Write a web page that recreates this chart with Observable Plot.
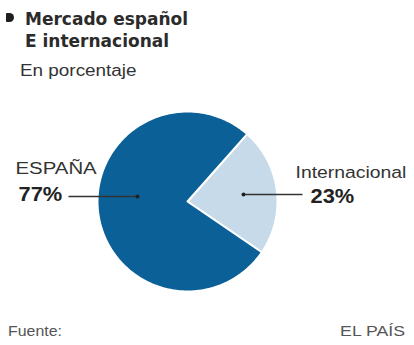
<!DOCTYPE html>
<html><head><meta charset="utf-8">
<script src="https://cdn.jsdelivr.net/npm/d3@7"></script>
<script src="https://cdn.jsdelivr.net/npm/@observablehq/plot@0.6"></script>
<style>
body{margin:0;background:#fff;}
#wrap{position:relative;width:414px;height:345px;overflow:hidden;font-family:"Liberation Sans",Arial,sans-serif;}
#chart{position:absolute;left:0;top:0;}
.t{position:absolute;white-space:nowrap;transform-origin:left top;}
#bullet{position:absolute;left:6px;top:13px;width:8px;height:9px;background:#1e1e1e;border-radius:1px 5px 5px 1px;}
#title{left:25px;top:8px;font-family:"DejaVu Sans",sans-serif;font-weight:bold;font-size:17px;line-height:22px;color:#2b2b2b;}
#subtitle{left:20px;top:62.5px;font-size:16px;line-height:16px;color:#333;transform:scaleX(1.18);}
#source{left:8px;top:323px;font-size:15px;line-height:15px;color:#555;transform:scaleX(1.06);}
#credit{right:9px;top:323px;font-size:15px;line-height:15px;color:#555;transform:scaleX(1.18);transform-origin:right top;}
</style></head><body>
<div id="wrap">
  <div id="chart"></div>
  <div id="bullet"></div>
  <div class="t" id="title">Mercado español<br>E internacional</div>
  <div class="t" id="subtitle">En porcentaje</div>
  <div class="t" id="source">Fuente:</div>
  <div class="t" id="credit">EL PAÍS</div>
</div>
<script>
// ---- data ----
const categories = ["Internacional", "ESPAÑA"];
const values = [23, 77];
const valueLabels = ["23%", "77%"];
const colors = ["#c6daea", "#0b6097"];

// ---- layout ----
const CX = 187, CY = 201, R = 90, START = 41.5 * Math.PI / 180;
const labelPos = [
  {nx: 295, ny: 177, vx: 310, vy: 202, x1: 302, x2: 243, ly: 194, sx: 1.14},
  {nx: 15,  ny: 173, vx: 18,  vy: 200, x1: 68,  x2: 137, ly: 196, sx: 1.2}
];

const arcs = d3.pie().sort(null).startAngle(START).endAngle(START + 2 * Math.PI)(values);
const pts = [];
arcs.forEach((a, i) => {
  pts.push({cat: categories[i], x: CX, y: CY});
  const n = Math.max(2, Math.ceil((a.endAngle - a.startAngle) / (Math.PI / 180)));
  for (let k = 0; k <= n; k++) {
    const t = a.startAngle + (a.endAngle - a.startAngle) * k / n;
    pts.push({cat: categories[i], x: CX + R * Math.sin(t), y: CY - R * Math.cos(t)});
  }
  pts.push({cat: categories[i], x: CX, y: CY});
});

const idx = categories.map((_, i) => i);

const plot = Plot.plot({
  width: 414, height: 345,
  margin: 0,
  x: {type: "identity", axis: null},
  y: {type: "identity", axis: null},
  color: {domain: categories, range: colors},
  style: {fontFamily: "Liberation Sans, Arial, sans-serif", background: "transparent"},
  marks: [
    Plot.line(pts, {x: "x", y: "y", z: "cat", fill: "cat", stroke: "white", strokeWidth: 2, strokeLinejoin: "round"}),
    Plot.link(idx, {x1: i => labelPos[i].x1, x2: i => labelPos[i].x2, y1: i => labelPos[i].ly, y2: i => labelPos[i].ly, stroke: "#333", strokeWidth: 1.3}),
    Plot.dot(idx, {x: i => labelPos[i].x2, y: i => labelPos[i].ly, r: 2, fill: "#222"}),
    Plot.text(idx, {x: i => labelPos[i].nx, y: i => labelPos[i].ny, text: i => categories[i], textAnchor: "start", lineAnchor: "bottom", fontSize: 17, fill: "#333"}),
    Plot.text(idx, {x: i => labelPos[i].vx, y: i => labelPos[i].vy, text: i => valueLabels[i], textAnchor: "start", lineAnchor: "bottom", fontSize: 19.5, fontWeight: "bold", fill: "#222"})
  ]
});
document.getElementById("chart").appendChild(plot);
d3.select(plot).selectAll("g[aria-label=text]").each(function(_, gi) {
  d3.select(this).selectAll("text").attr("transform", function(d, j) {
    const s = gi === 0 ? labelPos[j].sx : 1.12;
    return (this.getAttribute("transform") || "") + ` scale(${s},1)`;
  });
});
</script>
</body></html>
